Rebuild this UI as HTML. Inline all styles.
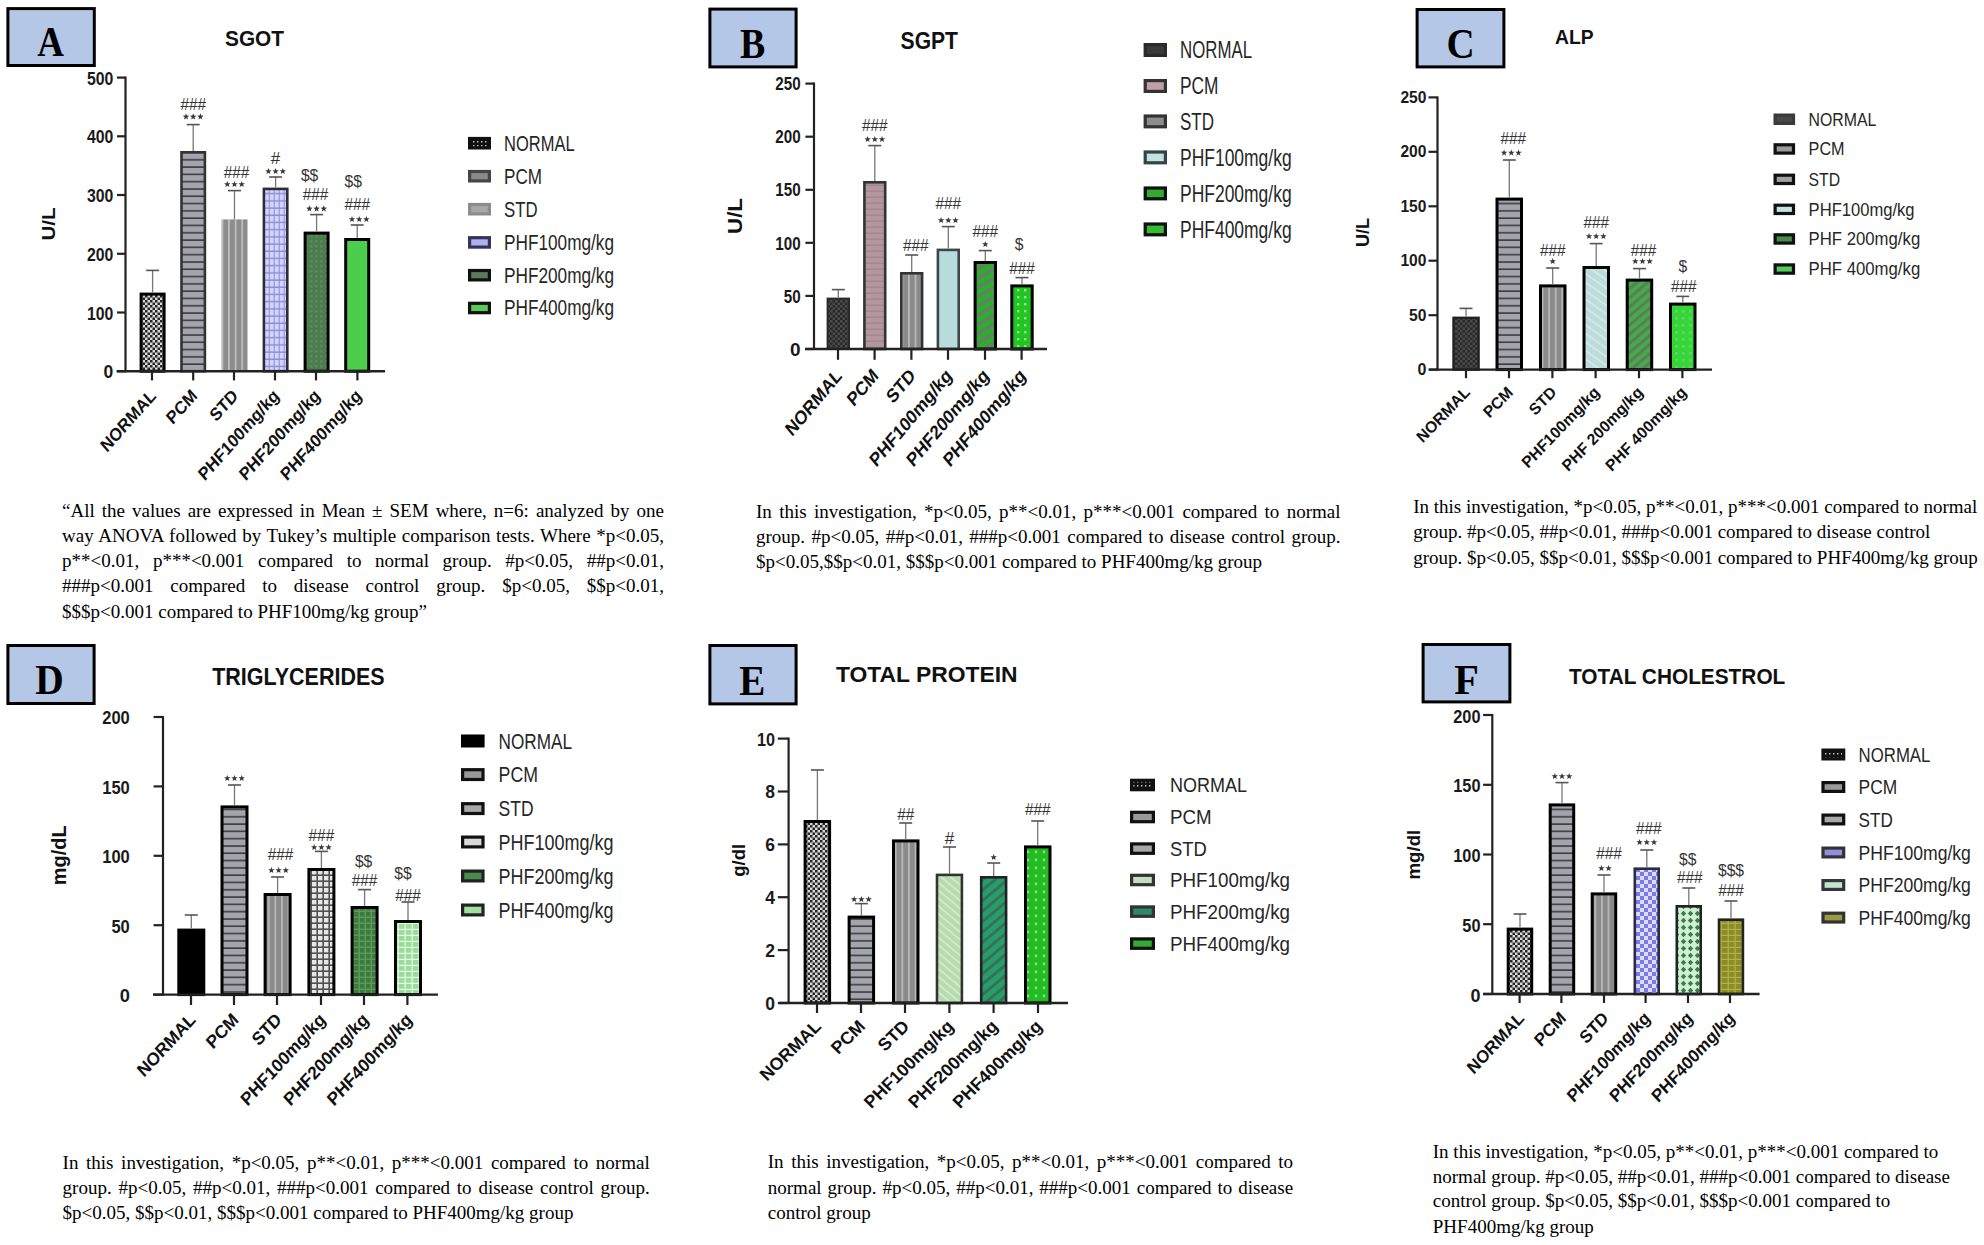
<!DOCTYPE html><html><head><meta charset="utf-8"><style>html,body{margin:0;padding:0;background:#fff;overflow:hidden;} svg{display:block;} .cap{position:absolute;font-family:'Liberation Serif', serif;font-size:19px;color:#000;white-space:nowrap;} .j{text-align:justify;text-align-last:justify;}</style></head><body>
<div style="position:relative;width:1984px;height:1245px;overflow:hidden;">
<svg width="1984" height="1245" viewBox="0 0 1984 1245">
<defs>
<pattern id="chkBW" width="5" height="5" patternUnits="userSpaceOnUse"><rect width="5" height="5" fill="#d8d8d8"/><rect width="2.5" height="2.5" fill="#262626"/><rect x="2.5" y="2.5" width="2.5" height="2.5" fill="#262626"/></pattern>
<pattern id="legNormA" width="4" height="4" patternUnits="userSpaceOnUse"><rect width="4" height="4" fill="#111"/><rect x="1" y="1" width="1.5" height="1.5" fill="#bbb"/></pattern>
<pattern id="chkDark" width="5" height="5" patternUnits="userSpaceOnUse"><rect width="5" height="5" fill="#2a2a2a"/><rect width="2.5" height="2.5" fill="#4a4a4a"/><rect x="2.5" y="2.5" width="2.5" height="2.5" fill="#4a4a4a"/></pattern>
<pattern id="hstr" width="8" height="7.3" patternUnits="userSpaceOnUse"><rect width="8" height="7.3" fill="#a4a4ac"/><rect y="5.7" width="8" height="1.6" fill="#3c3c40"/></pattern>
<pattern id="hstrPink" width="8" height="6" patternUnits="userSpaceOnUse"><rect width="8" height="6" fill="#b3969e"/><rect y="4.5" width="8" height="1.5" fill="#a08890"/></pattern>
<pattern id="vstrA" width="6.6" height="8" patternUnits="userSpaceOnUse"><rect width="6.6" height="8" fill="#8c8c8c"/><rect x="4" width="1.2" height="8" fill="#d6d6d6"/></pattern>
<pattern id="vstr" width="6.6" height="8" patternUnits="userSpaceOnUse"><rect width="6.6" height="8" fill="#8a8a8a"/><rect x="4" width="1.4" height="8" fill="#c4c4c4"/></pattern>
<pattern id="gridLav" width="5" height="7.2" patternUnits="userSpaceOnUse"><rect width="5" height="7.2" fill="#d4d4f6"/><rect x="3.6" width="1.4" height="7.2" fill="#a0a0ea"/><rect y="5.8" width="5" height="1.4" fill="#8a8ad8"/></pattern>
<pattern id="dgreenA" width="5" height="5" patternUnits="userSpaceOnUse"><rect width="5" height="5" fill="#4c7c4e"/><rect width="2.5" height="2.5" fill="#5a8a5c"/></pattern>
<pattern id="diagGreenB" width="8" height="8" patternUnits="userSpaceOnUse" patternTransform="rotate(-30)"><rect width="8" height="8" fill="#25b425"/><rect width="8" height="3.6" fill="#6c7a6c"/></pattern>
<pattern id="dotGreenB" width="7" height="7" patternUnits="userSpaceOnUse"><rect width="7" height="7" fill="#1fc81f"/><rect x="2" y="2" width="2.4" height="2.4" fill="#a8d0a8"/></pattern>
<pattern id="diagCyanC" width="7" height="7" patternUnits="userSpaceOnUse" patternTransform="rotate(35)"><rect width="7" height="7" fill="#bcdcdc"/><rect width="7" height="1.6" fill="#d4eaea"/></pattern>
<pattern id="diagGreenC" width="7" height="7" patternUnits="userSpaceOnUse" patternTransform="rotate(-40)"><rect width="7" height="7" fill="#46aa48"/><rect width="7" height="2.8" fill="#5c7a5c"/></pattern>
<pattern id="dotGreenC" width="7" height="7" patternUnits="userSpaceOnUse"><rect width="7" height="7" fill="#34d834"/><rect x="2" y="2" width="2.6" height="2.6" fill="#6ccc7c"/></pattern>
<pattern id="gridWhite" width="6" height="6" patternUnits="userSpaceOnUse"><rect width="6" height="6" fill="#e6e6e6"/><rect x="4.4" width="1.6" height="6" fill="#505050"/><rect y="4.4" width="6" height="1.6" fill="#505050"/></pattern>
<pattern id="gridDG" width="6" height="6" patternUnits="userSpaceOnUse"><rect width="6" height="6" fill="#3e7a40"/><rect x="4.6" width="1.4" height="6" fill="#5c9a5c"/><rect y="4.6" width="6" height="1.4" fill="#5c9a5c"/></pattern>
<pattern id="brickLG" width="7" height="6" patternUnits="userSpaceOnUse"><rect width="7" height="6" fill="#9adc9a"/><rect y="4.8" width="7" height="1.2" fill="#e8f8e8"/><rect x="5.6" width="1.2" height="6" fill="#e8f8e8"/></pattern>
<pattern id="diagLG_E" width="6" height="6" patternUnits="userSpaceOnUse" patternTransform="rotate(40)"><rect width="6" height="6" fill="#b6dcae"/><rect width="6" height="1.6" fill="#d4ecd0"/></pattern>
<pattern id="diagTeal" width="8" height="8" patternUnits="userSpaceOnUse" patternTransform="rotate(-40)"><rect width="8" height="8" fill="#22a06c"/><rect width="8" height="3" fill="#3e6e58"/></pattern>
<pattern id="dotGreenE" width="8" height="8" patternUnits="userSpaceOnUse"><rect width="8" height="8" fill="#20bc20"/><circle cx="4" cy="4" r="1.4" fill="#8cd88c"/></pattern>
<pattern id="chkBlue" width="8" height="8" patternUnits="userSpaceOnUse"><rect width="8" height="8" fill="#dcdcfc"/><rect width="4" height="4" fill="#7a7ae8"/><rect x="4" y="4" width="4" height="4" fill="#7a7ae8"/></pattern>
<pattern id="diamondF" width="7" height="7" patternUnits="userSpaceOnUse"><rect width="7" height="7" fill="#cdf0d4"/><path d="M3.5 0.8 L6.2 3.5 L3.5 6.2 L0.8 3.5Z" fill="#3e7a4c"/></pattern>
<pattern id="brickOlive" width="7" height="6" patternUnits="userSpaceOnUse"><rect width="7" height="6" fill="#8c8c24"/><rect y="4.8" width="7" height="1.2" fill="#b0b050"/><rect x="5.6" width="1.2" height="6" fill="#b0b050"/></pattern>
</defs>
<rect width="1984" height="1245" fill="#fff"/>
<rect x="7.9" y="8.6" width="86.4" height="56.9" fill="#b4c7e7" stroke="#000" stroke-width="3"/>
<g transform="translate(50.5 0) scale(0.88 1)"><text x="0" y="56.5" font-family="'Liberation Serif', serif" font-size="42" font-weight="700" text-anchor="middle" fill="#000">A</text></g>
<text x="225.0" y="46.0" font-family="'Liberation Sans', sans-serif" font-size="22.2" font-weight="700" text-anchor="start" fill="#111" textLength="59" lengthAdjust="spacingAndGlyphs" >SGOT</text>
<rect x="141.1" y="294.1" width="23.0" height="77.1" fill="url(#chkBW)" stroke="#000" stroke-width="3"/>
<rect x="181.5" y="152.3" width="23.4" height="218.9" fill="url(#hstr)" stroke="#333" stroke-width="2.6"/>
<rect x="221.5" y="219.4" width="26.0" height="151.8" fill="url(#vstrA)"/>
<rect x="263.9" y="188.9" width="23.4" height="182.3" fill="url(#gridLav)" stroke="#2c2c38" stroke-width="2.6"/>
<rect x="305.1" y="233.1" width="23.0" height="138.1" fill="url(#dgreenA)" stroke="#000" stroke-width="3"/>
<rect x="345.7" y="239.5" width="23.0" height="131.7" fill="#4ccd4c" stroke="#000" stroke-width="3"/>
<line x1="152.6" y1="292.6" x2="152.6" y2="270.4" stroke="#777" stroke-width="1.3"/>
<line x1="146.1" y1="270.4" x2="159.1" y2="270.4" stroke="#555" stroke-width="1.6"/>
<line x1="193.2" y1="151.0" x2="193.2" y2="124.6" stroke="#777" stroke-width="1.3"/>
<line x1="186.7" y1="124.6" x2="199.7" y2="124.6" stroke="#555" stroke-width="1.6"/>
<line x1="234.5" y1="219.4" x2="234.5" y2="190.6" stroke="#777" stroke-width="1.3"/>
<line x1="228.0" y1="190.6" x2="241.0" y2="190.6" stroke="#555" stroke-width="1.6"/>
<line x1="275.6" y1="187.6" x2="275.6" y2="177.0" stroke="#777" stroke-width="1.3"/>
<line x1="269.1" y1="177.0" x2="282.1" y2="177.0" stroke="#555" stroke-width="1.6"/>
<line x1="316.6" y1="231.6" x2="316.6" y2="214.6" stroke="#777" stroke-width="1.3"/>
<line x1="310.1" y1="214.6" x2="323.1" y2="214.6" stroke="#555" stroke-width="1.6"/>
<line x1="357.2" y1="238.0" x2="357.2" y2="225.0" stroke="#777" stroke-width="1.3"/>
<line x1="350.7" y1="225.0" x2="363.7" y2="225.0" stroke="#555" stroke-width="1.6"/>
<line x1="125.5" y1="76.6" x2="125.5" y2="372.2" stroke="#222" stroke-width="2.2"/>
<line x1="116.6" y1="371.2" x2="385.0" y2="371.2" stroke="#222" stroke-width="2.4"/>
<line x1="117.0" y1="371.2" x2="125.5" y2="371.2" stroke="#222" stroke-width="2.2"/>
<text x="113.3" y="378.3" font-family="'Liberation Sans', sans-serif" font-size="17.5" font-weight="700" text-anchor="end" fill="#1a1a1a" >0</text>
<line x1="117.0" y1="312.5" x2="125.5" y2="312.5" stroke="#222" stroke-width="2.2"/>
<text x="113.3" y="319.6" font-family="'Liberation Sans', sans-serif" font-size="17.5" font-weight="700" text-anchor="end" fill="#1a1a1a" textLength="26.400000000000002" lengthAdjust="spacingAndGlyphs" >100</text>
<line x1="117.0" y1="253.8" x2="125.5" y2="253.8" stroke="#222" stroke-width="2.2"/>
<text x="113.3" y="260.9" font-family="'Liberation Sans', sans-serif" font-size="17.5" font-weight="700" text-anchor="end" fill="#1a1a1a" textLength="26.400000000000002" lengthAdjust="spacingAndGlyphs" >200</text>
<line x1="117.0" y1="195.0" x2="125.5" y2="195.0" stroke="#222" stroke-width="2.2"/>
<text x="113.3" y="202.2" font-family="'Liberation Sans', sans-serif" font-size="17.5" font-weight="700" text-anchor="end" fill="#1a1a1a" textLength="26.400000000000002" lengthAdjust="spacingAndGlyphs" >300</text>
<line x1="117.0" y1="136.3" x2="125.5" y2="136.3" stroke="#222" stroke-width="2.2"/>
<text x="113.3" y="143.4" font-family="'Liberation Sans', sans-serif" font-size="17.5" font-weight="700" text-anchor="end" fill="#1a1a1a" textLength="26.400000000000002" lengthAdjust="spacingAndGlyphs" >400</text>
<line x1="117.0" y1="77.6" x2="125.5" y2="77.6" stroke="#222" stroke-width="2.2"/>
<text x="113.3" y="84.7" font-family="'Liberation Sans', sans-serif" font-size="17.5" font-weight="700" text-anchor="end" fill="#1a1a1a" textLength="26.400000000000002" lengthAdjust="spacingAndGlyphs" >500</text>
<line x1="152.0" y1="371.2" x2="152.0" y2="380.4" stroke="#222" stroke-width="2.2"/>
<line x1="193.2" y1="371.2" x2="193.2" y2="380.4" stroke="#222" stroke-width="2.2"/>
<line x1="234.0" y1="371.2" x2="234.0" y2="380.4" stroke="#222" stroke-width="2.2"/>
<line x1="275.0" y1="371.2" x2="275.0" y2="380.4" stroke="#222" stroke-width="2.2"/>
<line x1="316.0" y1="371.2" x2="316.0" y2="380.4" stroke="#222" stroke-width="2.2"/>
<line x1="357.4" y1="371.2" x2="357.4" y2="380.4" stroke="#222" stroke-width="2.2"/>
<text x="0" y="0" transform="translate(156.95 396.90) scale(0.89 1) rotate(-45)" font-family="'Liberation Sans', sans-serif" font-size="18.1" font-weight="700" text-anchor="end" fill="#111">NORMAL</text>
<text x="0" y="0" transform="translate(198.15 396.90) scale(0.89 1) rotate(-45)" font-family="'Liberation Sans', sans-serif" font-size="18.1" font-weight="700" text-anchor="end" fill="#111">PCM</text>
<text x="0" y="0" transform="translate(238.95 396.90) scale(0.89 1) rotate(-45)" font-family="'Liberation Sans', sans-serif" font-size="18.1" font-weight="700" text-anchor="end" fill="#111">STD</text>
<text x="0" y="0" transform="translate(279.95 396.90) scale(0.89 1) rotate(-45)" font-family="'Liberation Sans', sans-serif" font-size="18.1" font-weight="700" text-anchor="end" fill="#111">PHF100mg/kg</text>
<text x="0" y="0" transform="translate(320.95 396.90) scale(0.89 1) rotate(-45)" font-family="'Liberation Sans', sans-serif" font-size="18.1" font-weight="700" text-anchor="end" fill="#111">PHF200mg/kg</text>
<text x="0" y="0" transform="translate(362.35 396.90) scale(0.89 1) rotate(-45)" font-family="'Liberation Sans', sans-serif" font-size="18.1" font-weight="700" text-anchor="end" fill="#111">PHF400mg/kg</text>
<text x="193.2" y="110.0" font-family="'Liberation Sans', sans-serif" font-size="17" font-weight="400" text-anchor="middle" fill="#333" textLength="25.650000000000002" lengthAdjust="spacingAndGlyphs" >###</text>
<polygon points="186.00,113.30 186.85,115.53 189.23,115.65 187.38,117.15 188.00,119.45 186.00,118.15 184.00,119.45 184.62,117.15 182.77,115.65 185.15,115.53" fill="#3a3a3a"/>
<polygon points="193.20,113.30 194.05,115.53 196.43,115.65 194.58,117.15 195.20,119.45 193.20,118.15 191.20,119.45 191.82,117.15 189.97,115.65 192.35,115.53" fill="#3a3a3a"/>
<polygon points="200.40,113.30 201.25,115.53 203.63,115.65 201.78,117.15 202.40,119.45 200.40,118.15 198.40,119.45 199.02,117.15 197.17,115.65 199.55,115.53" fill="#3a3a3a"/>
<text x="236.5" y="177.6" font-family="'Liberation Sans', sans-serif" font-size="17" font-weight="400" text-anchor="middle" fill="#333" textLength="25.650000000000002" lengthAdjust="spacingAndGlyphs" >###</text>
<polygon points="227.30,180.90 228.15,183.13 230.53,183.25 228.68,184.75 229.30,187.05 227.30,185.75 225.30,187.05 225.92,184.75 224.07,183.25 226.45,183.13" fill="#3a3a3a"/>
<polygon points="234.50,180.90 235.35,183.13 237.73,183.25 235.88,184.75 236.50,187.05 234.50,185.75 232.50,187.05 233.12,184.75 231.27,183.25 233.65,183.13" fill="#3a3a3a"/>
<polygon points="241.70,180.90 242.55,183.13 244.93,183.25 243.08,184.75 243.70,187.05 241.70,185.75 239.70,187.05 240.32,184.75 238.47,183.25 240.85,183.13" fill="#3a3a3a"/>
<text x="275.6" y="164.0" font-family="'Liberation Sans', sans-serif" font-size="17" font-weight="400" text-anchor="middle" fill="#333" >#</text>
<polygon points="268.40,167.90 269.25,170.13 271.63,170.25 269.78,171.75 270.40,174.05 268.40,172.75 266.40,174.05 267.02,171.75 265.17,170.25 267.55,170.13" fill="#3a3a3a"/>
<polygon points="275.60,167.90 276.45,170.13 278.83,170.25 276.98,171.75 277.60,174.05 275.60,172.75 273.60,174.05 274.22,171.75 272.37,170.25 274.75,170.13" fill="#3a3a3a"/>
<polygon points="282.80,167.90 283.65,170.13 286.03,170.25 284.18,171.75 284.80,174.05 282.80,172.75 280.80,174.05 281.42,171.75 279.57,170.25 281.95,170.13" fill="#3a3a3a"/>
<text x="309.6" y="180.9" font-family="'Liberation Sans', sans-serif" font-size="16" font-weight="400" text-anchor="middle" fill="#333" textLength="17.4" lengthAdjust="spacingAndGlyphs" >$$</text>
<text x="315.6" y="200.0" font-family="'Liberation Sans', sans-serif" font-size="17" font-weight="400" text-anchor="middle" fill="#333" textLength="25.650000000000002" lengthAdjust="spacingAndGlyphs" >###</text>
<polygon points="309.40,205.30 310.25,207.53 312.63,207.65 310.78,209.15 311.40,211.45 309.40,210.15 307.40,211.45 308.02,209.15 306.17,207.65 308.55,207.53" fill="#3a3a3a"/>
<polygon points="316.60,205.30 317.45,207.53 319.83,207.65 317.98,209.15 318.60,211.45 316.60,210.15 314.60,211.45 315.22,209.15 313.37,207.65 315.75,207.53" fill="#3a3a3a"/>
<polygon points="323.80,205.30 324.65,207.53 327.03,207.65 325.18,209.15 325.80,211.45 323.80,210.15 321.80,211.45 322.42,209.15 320.57,207.65 322.95,207.53" fill="#3a3a3a"/>
<text x="353.2" y="186.9" font-family="'Liberation Sans', sans-serif" font-size="16" font-weight="400" text-anchor="middle" fill="#333" textLength="17.4" lengthAdjust="spacingAndGlyphs" >$$</text>
<text x="357.2" y="210.0" font-family="'Liberation Sans', sans-serif" font-size="17" font-weight="400" text-anchor="middle" fill="#333" textLength="25.650000000000002" lengthAdjust="spacingAndGlyphs" >###</text>
<polygon points="352.00,215.90 352.85,218.13 355.23,218.25 353.38,219.75 354.00,222.05 352.00,220.75 350.00,222.05 350.62,219.75 348.77,218.25 351.15,218.13" fill="#3a3a3a"/>
<polygon points="359.20,215.90 360.05,218.13 362.43,218.25 360.58,219.75 361.20,222.05 359.20,220.75 357.20,222.05 357.82,219.75 355.97,218.25 358.35,218.13" fill="#3a3a3a"/>
<polygon points="366.40,215.90 367.25,218.13 369.63,218.25 367.78,219.75 368.40,222.05 366.40,220.75 364.40,222.05 365.02,219.75 363.17,218.25 365.55,218.13" fill="#3a3a3a"/>
<rect x="469.6" y="138.5" width="19.8" height="9.4" fill="url(#legNormA)" stroke="#111" stroke-width="3.2"/>
<text x="504.0" y="150.5" font-family="'Liberation Sans', sans-serif" font-size="21.2" font-weight="400" text-anchor="start" fill="#262626" textLength="70.6" lengthAdjust="spacingAndGlyphs" >NORMAL</text>
<rect x="469.6" y="171.5" width="19.8" height="9.4" fill="#8a8a8a" stroke="#454545" stroke-width="3.2"/>
<text x="504.0" y="183.5" font-family="'Liberation Sans', sans-serif" font-size="21.2" font-weight="400" text-anchor="start" fill="#262626" textLength="38" lengthAdjust="spacingAndGlyphs" >PCM</text>
<rect x="469.6" y="204.5" width="19.8" height="9.4" fill="#a8a8a8" stroke="#8c8c8c" stroke-width="3.2"/>
<text x="504.0" y="216.5" font-family="'Liberation Sans', sans-serif" font-size="21.2" font-weight="400" text-anchor="start" fill="#262626" textLength="33.6" lengthAdjust="spacingAndGlyphs" >STD</text>
<rect x="469.6" y="237.7" width="19.8" height="9.4" fill="#b0b0ee" stroke="#34345a" stroke-width="3.2"/>
<text x="504.0" y="249.7" font-family="'Liberation Sans', sans-serif" font-size="21.2" font-weight="400" text-anchor="start" fill="#262626" textLength="110" lengthAdjust="spacingAndGlyphs" >PHF100mg/kg</text>
<rect x="469.6" y="270.5" width="19.8" height="9.4" fill="#5a7a5a" stroke="#111" stroke-width="3.2"/>
<text x="504.0" y="282.5" font-family="'Liberation Sans', sans-serif" font-size="21.2" font-weight="400" text-anchor="start" fill="#262626" textLength="110" lengthAdjust="spacingAndGlyphs" >PHF200mg/kg</text>
<rect x="469.6" y="303.3" width="19.8" height="9.4" fill="#58cc58" stroke="#111" stroke-width="3.2"/>
<text x="504.0" y="315.3" font-family="'Liberation Sans', sans-serif" font-size="21.2" font-weight="400" text-anchor="start" fill="#262626" textLength="110" lengthAdjust="spacingAndGlyphs" >PHF400mg/kg</text>
<text x="0" y="0" transform="translate(54.8 224.0) scale(0.92 1) rotate(-90)" font-family="'Liberation Sans', sans-serif" font-size="20.6" font-weight="700" text-anchor="middle" fill="#111">U/L</text>
<rect x="709.9" y="9.1" width="86.2" height="57.8" fill="#b4c7e7" stroke="#000" stroke-width="3"/>
<g transform="translate(752.7 0) scale(0.9 1)"><text x="0" y="58.0" font-family="'Liberation Serif', serif" font-size="42" font-weight="700" text-anchor="middle" fill="#000">B</text></g>
<text x="900.6" y="49.0" font-family="'Liberation Sans', sans-serif" font-size="23.5" font-weight="700" text-anchor="start" fill="#111" textLength="57.4" lengthAdjust="spacingAndGlyphs" >SGPT</text>
<rect x="827.6" y="298.6" width="21.4" height="50.4" fill="url(#chkDark)" stroke="#2a2a2a" stroke-width="2"/>
<rect x="864.4" y="182.3" width="20.8" height="166.7" fill="url(#hstrPink)" stroke="#333" stroke-width="2.6"/>
<rect x="901.3" y="273.3" width="20.8" height="75.7" fill="url(#vstr)" stroke="#333" stroke-width="2.6"/>
<rect x="937.9" y="249.9" width="20.8" height="99.1" fill="#b8dcdc" stroke="#3a4848" stroke-width="2.6"/>
<rect x="975.1" y="262.5" width="20.4" height="86.5" fill="url(#diagGreenB)" stroke="#000" stroke-width="3"/>
<rect x="1011.8" y="285.9" width="20.4" height="63.1" fill="url(#dotGreenB)" stroke="#000" stroke-width="3"/>
<line x1="838.3" y1="297.6" x2="838.3" y2="289.6" stroke="#777" stroke-width="1.3"/>
<line x1="831.8" y1="289.6" x2="844.8" y2="289.6" stroke="#555" stroke-width="1.6"/>
<line x1="874.8" y1="181.0" x2="874.8" y2="145.6" stroke="#777" stroke-width="1.3"/>
<line x1="868.3" y1="145.6" x2="881.3" y2="145.6" stroke="#555" stroke-width="1.6"/>
<line x1="911.7" y1="272.0" x2="911.7" y2="255.0" stroke="#777" stroke-width="1.3"/>
<line x1="905.2" y1="255.0" x2="918.2" y2="255.0" stroke="#555" stroke-width="1.6"/>
<line x1="948.3" y1="248.6" x2="948.3" y2="226.6" stroke="#777" stroke-width="1.3"/>
<line x1="941.8" y1="226.6" x2="954.8" y2="226.6" stroke="#555" stroke-width="1.6"/>
<line x1="985.3" y1="261.0" x2="985.3" y2="250.6" stroke="#777" stroke-width="1.3"/>
<line x1="978.8" y1="250.6" x2="991.8" y2="250.6" stroke="#555" stroke-width="1.6"/>
<line x1="1022.0" y1="284.4" x2="1022.0" y2="277.6" stroke="#777" stroke-width="1.3"/>
<line x1="1015.5" y1="277.6" x2="1028.5" y2="277.6" stroke="#555" stroke-width="1.6"/>
<line x1="814.0" y1="82.6" x2="814.0" y2="350.0" stroke="#222" stroke-width="2.2"/>
<line x1="805.0" y1="349.0" x2="1047.0" y2="349.0" stroke="#222" stroke-width="2.4"/>
<line x1="805.4" y1="349.0" x2="814.0" y2="349.0" stroke="#222" stroke-width="2.2"/>
<text x="800.6" y="355.6" font-family="'Liberation Sans', sans-serif" font-size="19" font-weight="700" text-anchor="end" fill="#1a1a1a" >0</text>
<line x1="805.4" y1="295.9" x2="814.0" y2="295.9" stroke="#222" stroke-width="2.2"/>
<text x="800.6" y="302.6" font-family="'Liberation Sans', sans-serif" font-size="19" font-weight="700" text-anchor="end" fill="#1a1a1a" textLength="16.9" lengthAdjust="spacingAndGlyphs" >50</text>
<line x1="805.4" y1="242.8" x2="814.0" y2="242.8" stroke="#222" stroke-width="2.2"/>
<text x="800.6" y="249.5" font-family="'Liberation Sans', sans-serif" font-size="19" font-weight="700" text-anchor="end" fill="#1a1a1a" textLength="25.349999999999998" lengthAdjust="spacingAndGlyphs" >100</text>
<line x1="805.4" y1="189.8" x2="814.0" y2="189.8" stroke="#222" stroke-width="2.2"/>
<text x="800.6" y="196.4" font-family="'Liberation Sans', sans-serif" font-size="19" font-weight="700" text-anchor="end" fill="#1a1a1a" textLength="25.349999999999998" lengthAdjust="spacingAndGlyphs" >150</text>
<line x1="805.4" y1="136.7" x2="814.0" y2="136.7" stroke="#222" stroke-width="2.2"/>
<text x="800.6" y="143.3" font-family="'Liberation Sans', sans-serif" font-size="19" font-weight="700" text-anchor="end" fill="#1a1a1a" textLength="25.349999999999998" lengthAdjust="spacingAndGlyphs" >200</text>
<line x1="805.4" y1="83.6" x2="814.0" y2="83.6" stroke="#222" stroke-width="2.2"/>
<text x="800.6" y="90.3" font-family="'Liberation Sans', sans-serif" font-size="19" font-weight="700" text-anchor="end" fill="#1a1a1a" textLength="25.349999999999998" lengthAdjust="spacingAndGlyphs" >250</text>
<line x1="838.0" y1="349.0" x2="838.0" y2="359.8" stroke="#222" stroke-width="2.2"/>
<line x1="874.6" y1="349.0" x2="874.6" y2="359.8" stroke="#222" stroke-width="2.2"/>
<line x1="911.4" y1="349.0" x2="911.4" y2="359.8" stroke="#222" stroke-width="2.2"/>
<line x1="948.0" y1="349.0" x2="948.0" y2="359.8" stroke="#222" stroke-width="2.2"/>
<line x1="985.0" y1="349.0" x2="985.0" y2="359.8" stroke="#222" stroke-width="2.2"/>
<line x1="1021.6" y1="349.0" x2="1021.6" y2="359.8" stroke="#222" stroke-width="2.2"/>
<text x="0" y="0" transform="translate(842.86 376.87) scale(0.84 1) rotate(-45)" font-family="'Liberation Sans', sans-serif" font-size="19.5" font-weight="700" text-anchor="end" fill="#111">NORMAL</text>
<text x="0" y="0" transform="translate(879.46 376.87) scale(0.84 1) rotate(-45)" font-family="'Liberation Sans', sans-serif" font-size="19.5" font-weight="700" text-anchor="end" fill="#111">PCM</text>
<text x="0" y="0" transform="translate(916.26 376.87) scale(0.84 1) rotate(-45)" font-family="'Liberation Sans', sans-serif" font-size="19.5" font-weight="700" text-anchor="end" fill="#111">STD</text>
<text x="0" y="0" transform="translate(952.86 376.87) scale(0.84 1) rotate(-45)" font-family="'Liberation Sans', sans-serif" font-size="19.5" font-weight="700" text-anchor="end" fill="#111">PHF100mg/kg</text>
<text x="0" y="0" transform="translate(989.86 376.87) scale(0.84 1) rotate(-45)" font-family="'Liberation Sans', sans-serif" font-size="19.5" font-weight="700" text-anchor="end" fill="#111">PHF200mg/kg</text>
<text x="0" y="0" transform="translate(1026.46 376.87) scale(0.84 1) rotate(-45)" font-family="'Liberation Sans', sans-serif" font-size="19.5" font-weight="700" text-anchor="end" fill="#111">PHF400mg/kg</text>
<text x="874.8" y="131.0" font-family="'Liberation Sans', sans-serif" font-size="17" font-weight="400" text-anchor="middle" fill="#333" textLength="25.650000000000002" lengthAdjust="spacingAndGlyphs" >###</text>
<polygon points="867.60,135.90 868.45,138.13 870.83,138.25 868.98,139.75 869.60,142.05 867.60,140.75 865.60,142.05 866.22,139.75 864.37,138.25 866.75,138.13" fill="#3a3a3a"/>
<polygon points="874.80,135.90 875.65,138.13 878.03,138.25 876.18,139.75 876.80,142.05 874.80,140.75 872.80,142.05 873.42,139.75 871.57,138.25 873.95,138.13" fill="#3a3a3a"/>
<polygon points="882.00,135.90 882.85,138.13 885.23,138.25 883.38,139.75 884.00,142.05 882.00,140.75 880.00,142.05 880.62,139.75 878.77,138.25 881.15,138.13" fill="#3a3a3a"/>
<text x="915.7" y="251.0" font-family="'Liberation Sans', sans-serif" font-size="17" font-weight="400" text-anchor="middle" fill="#333" textLength="25.650000000000002" lengthAdjust="spacingAndGlyphs" >###</text>
<text x="948.3" y="209.0" font-family="'Liberation Sans', sans-serif" font-size="17" font-weight="400" text-anchor="middle" fill="#333" textLength="25.650000000000002" lengthAdjust="spacingAndGlyphs" >###</text>
<polygon points="941.10,216.90 941.95,219.13 944.33,219.25 942.48,220.75 943.10,223.05 941.10,221.75 939.10,223.05 939.72,220.75 937.87,219.25 940.25,219.13" fill="#3a3a3a"/>
<polygon points="948.30,216.90 949.15,219.13 951.53,219.25 949.68,220.75 950.30,223.05 948.30,221.75 946.30,223.05 946.92,220.75 945.07,219.25 947.45,219.13" fill="#3a3a3a"/>
<polygon points="955.50,216.90 956.35,219.13 958.73,219.25 956.88,220.75 957.50,223.05 955.50,221.75 953.50,223.05 954.12,220.75 952.27,219.25 954.65,219.13" fill="#3a3a3a"/>
<text x="985.3" y="237.0" font-family="'Liberation Sans', sans-serif" font-size="17" font-weight="400" text-anchor="middle" fill="#333" textLength="25.650000000000002" lengthAdjust="spacingAndGlyphs" >###</text>
<polygon points="985.30,240.90 986.15,243.13 988.53,243.25 986.68,244.75 987.30,247.05 985.30,245.75 983.30,247.05 983.92,244.75 982.07,243.25 984.45,243.13" fill="#3a3a3a"/>
<text x="1019.0" y="249.9" font-family="'Liberation Sans', sans-serif" font-size="16" font-weight="400" text-anchor="middle" fill="#333" textLength="8.7" lengthAdjust="spacingAndGlyphs" >$</text>
<text x="1022.0" y="274.0" font-family="'Liberation Sans', sans-serif" font-size="17" font-weight="400" text-anchor="middle" fill="#333" textLength="25.650000000000002" lengthAdjust="spacingAndGlyphs" >###</text>
<rect x="1145.2" y="44.6" width="20.2" height="10.8" fill="#3a3a3a" stroke="#2a2a2a" stroke-width="3.2"/>
<text x="1180.0" y="58.3" font-family="'Liberation Sans', sans-serif" font-size="23.2" font-weight="400" text-anchor="start" fill="#262626" textLength="72" lengthAdjust="spacingAndGlyphs" >NORMAL</text>
<rect x="1145.2" y="80.6" width="20.2" height="10.8" fill="#c0a0a8" stroke="#333" stroke-width="3.2"/>
<text x="1180.0" y="94.3" font-family="'Liberation Sans', sans-serif" font-size="23.2" font-weight="400" text-anchor="start" fill="#262626" textLength="38.4" lengthAdjust="spacingAndGlyphs" >PCM</text>
<rect x="1145.2" y="116.0" width="20.2" height="10.8" fill="#8c8c8c" stroke="#333" stroke-width="3.2"/>
<text x="1180.0" y="129.7" font-family="'Liberation Sans', sans-serif" font-size="23.2" font-weight="400" text-anchor="start" fill="#262626" textLength="34" lengthAdjust="spacingAndGlyphs" >STD</text>
<rect x="1145.2" y="152.0" width="20.2" height="10.8" fill="#c4e2e2" stroke="#334444" stroke-width="3.2"/>
<text x="1180.0" y="165.7" font-family="'Liberation Sans', sans-serif" font-size="23.2" font-weight="400" text-anchor="start" fill="#262626" textLength="111.6" lengthAdjust="spacingAndGlyphs" >PHF100mg/kg</text>
<rect x="1145.2" y="188.0" width="20.2" height="10.8" fill="#33aa33" stroke="#111" stroke-width="3.2"/>
<text x="1180.0" y="201.7" font-family="'Liberation Sans', sans-serif" font-size="23.2" font-weight="400" text-anchor="start" fill="#262626" textLength="111.6" lengthAdjust="spacingAndGlyphs" >PHF200mg/kg</text>
<rect x="1145.2" y="224.0" width="20.2" height="10.8" fill="#35bb35" stroke="#111" stroke-width="3.2"/>
<text x="1180.0" y="237.7" font-family="'Liberation Sans', sans-serif" font-size="23.2" font-weight="400" text-anchor="start" fill="#262626" textLength="111.6" lengthAdjust="spacingAndGlyphs" >PHF400mg/kg</text>
<text x="0" y="0" transform="translate(742.0 216.0) scale(0.87 1) rotate(-90)" font-family="'Liberation Sans', sans-serif" font-size="22.3" font-weight="700" text-anchor="middle" fill="#111">U/L</text>
<rect x="1417.1" y="9.5" width="86.8" height="57.4" fill="#b4c7e7" stroke="#000" stroke-width="3"/>
<g transform="translate(1460.5 0) scale(0.93 1)"><text x="0" y="58.0" font-family="'Liberation Serif', serif" font-size="42" font-weight="700" text-anchor="middle" fill="#000">C</text></g>
<text x="1555.0" y="44.0" font-family="'Liberation Sans', sans-serif" font-size="20.8" font-weight="700" text-anchor="start" fill="#111" textLength="38.6" lengthAdjust="spacingAndGlyphs" >ALP</text>
<rect x="1453.5" y="317.8" width="25.1" height="51.8" fill="url(#chkDark)" stroke="#222" stroke-width="2.4"/>
<rect x="1497.0" y="199.1" width="24.5" height="170.5" fill="url(#hstr)" stroke="#000" stroke-width="3"/>
<rect x="1540.5" y="285.9" width="24.5" height="83.7" fill="url(#vstr)" stroke="#000" stroke-width="3"/>
<rect x="1584.0" y="267.5" width="24.5" height="102.1" fill="url(#diagCyanC)" stroke="#000" stroke-width="3"/>
<rect x="1627.2" y="280.1" width="24.5" height="89.5" fill="url(#diagGreenC)" stroke="#000" stroke-width="3"/>
<rect x="1670.5" y="304.1" width="24.5" height="65.5" fill="url(#dotGreenC)" stroke="#000" stroke-width="3"/>
<line x1="1466.0" y1="316.6" x2="1466.0" y2="308.4" stroke="#777" stroke-width="1.3"/>
<line x1="1459.5" y1="308.4" x2="1472.5" y2="308.4" stroke="#555" stroke-width="1.6"/>
<line x1="1509.3" y1="197.6" x2="1509.3" y2="160.0" stroke="#777" stroke-width="1.3"/>
<line x1="1502.8" y1="160.0" x2="1515.8" y2="160.0" stroke="#555" stroke-width="1.6"/>
<line x1="1552.7" y1="284.4" x2="1552.7" y2="268.0" stroke="#777" stroke-width="1.3"/>
<line x1="1546.2" y1="268.0" x2="1559.2" y2="268.0" stroke="#555" stroke-width="1.6"/>
<line x1="1596.2" y1="266.0" x2="1596.2" y2="243.6" stroke="#777" stroke-width="1.3"/>
<line x1="1589.7" y1="243.6" x2="1602.7" y2="243.6" stroke="#555" stroke-width="1.6"/>
<line x1="1639.5" y1="278.6" x2="1639.5" y2="268.6" stroke="#777" stroke-width="1.3"/>
<line x1="1633.0" y1="268.6" x2="1646.0" y2="268.6" stroke="#555" stroke-width="1.6"/>
<line x1="1682.8" y1="302.6" x2="1682.8" y2="296.4" stroke="#777" stroke-width="1.3"/>
<line x1="1676.3" y1="296.4" x2="1689.3" y2="296.4" stroke="#555" stroke-width="1.6"/>
<line x1="1437.5" y1="96.4" x2="1437.5" y2="370.6" stroke="#222" stroke-width="2.2"/>
<line x1="1429.0" y1="369.6" x2="1712.0" y2="369.6" stroke="#222" stroke-width="2.4"/>
<line x1="1428.5" y1="369.6" x2="1437.5" y2="369.6" stroke="#222" stroke-width="2.2"/>
<text x="1426.4" y="375.2" font-family="'Liberation Sans', sans-serif" font-size="16" font-weight="700" text-anchor="end" fill="#1a1a1a" >0</text>
<line x1="1428.5" y1="315.2" x2="1437.5" y2="315.2" stroke="#222" stroke-width="2.2"/>
<text x="1426.4" y="320.8" font-family="'Liberation Sans', sans-serif" font-size="16" font-weight="700" text-anchor="end" fill="#1a1a1a" textLength="17.34" lengthAdjust="spacingAndGlyphs" >50</text>
<line x1="1428.5" y1="260.7" x2="1437.5" y2="260.7" stroke="#222" stroke-width="2.2"/>
<text x="1426.4" y="266.3" font-family="'Liberation Sans', sans-serif" font-size="16" font-weight="700" text-anchor="end" fill="#1a1a1a" textLength="26.009999999999998" lengthAdjust="spacingAndGlyphs" >100</text>
<line x1="1428.5" y1="206.3" x2="1437.5" y2="206.3" stroke="#222" stroke-width="2.2"/>
<text x="1426.4" y="211.9" font-family="'Liberation Sans', sans-serif" font-size="16" font-weight="700" text-anchor="end" fill="#1a1a1a" textLength="26.009999999999998" lengthAdjust="spacingAndGlyphs" >150</text>
<line x1="1428.5" y1="151.8" x2="1437.5" y2="151.8" stroke="#222" stroke-width="2.2"/>
<text x="1426.4" y="157.4" font-family="'Liberation Sans', sans-serif" font-size="16" font-weight="700" text-anchor="end" fill="#1a1a1a" textLength="26.009999999999998" lengthAdjust="spacingAndGlyphs" >200</text>
<line x1="1428.5" y1="97.4" x2="1437.5" y2="97.4" stroke="#222" stroke-width="2.2"/>
<text x="1426.4" y="103.0" font-family="'Liberation Sans', sans-serif" font-size="16" font-weight="700" text-anchor="end" fill="#1a1a1a" textLength="26.009999999999998" lengthAdjust="spacingAndGlyphs" >250</text>
<line x1="1466.0" y1="369.6" x2="1466.0" y2="378.2" stroke="#222" stroke-width="2.2"/>
<line x1="1509.0" y1="369.6" x2="1509.0" y2="378.2" stroke="#222" stroke-width="2.2"/>
<line x1="1552.4" y1="369.6" x2="1552.4" y2="378.2" stroke="#222" stroke-width="2.2"/>
<line x1="1595.6" y1="369.6" x2="1595.6" y2="378.2" stroke="#222" stroke-width="2.2"/>
<line x1="1639.0" y1="369.6" x2="1639.0" y2="378.2" stroke="#222" stroke-width="2.2"/>
<line x1="1682.4" y1="369.6" x2="1682.4" y2="378.2" stroke="#222" stroke-width="2.2"/>
<text x="0" y="0" transform="translate(1470.94 393.34) scale(0.96 1) rotate(-45)" font-family="'Liberation Sans', sans-serif" font-size="16.2" font-weight="700" text-anchor="end" fill="#111">NORMAL</text>
<text x="0" y="0" transform="translate(1513.94 393.34) scale(0.96 1) rotate(-45)" font-family="'Liberation Sans', sans-serif" font-size="16.2" font-weight="700" text-anchor="end" fill="#111">PCM</text>
<text x="0" y="0" transform="translate(1557.34 393.34) scale(0.96 1) rotate(-45)" font-family="'Liberation Sans', sans-serif" font-size="16.2" font-weight="700" text-anchor="end" fill="#111">STD</text>
<text x="0" y="0" transform="translate(1600.54 393.34) scale(0.96 1) rotate(-45)" font-family="'Liberation Sans', sans-serif" font-size="16.2" font-weight="700" text-anchor="end" fill="#111">PHF100mg/kg</text>
<text x="0" y="0" transform="translate(1643.94 393.34) scale(0.96 1) rotate(-45)" font-family="'Liberation Sans', sans-serif" font-size="16.2" font-weight="700" text-anchor="end" fill="#111">PHF 200mg/kg</text>
<text x="0" y="0" transform="translate(1687.34 393.34) scale(0.96 1) rotate(-45)" font-family="'Liberation Sans', sans-serif" font-size="16.2" font-weight="700" text-anchor="end" fill="#111">PHF 400mg/kg</text>
<text x="1513.3" y="144.0" font-family="'Liberation Sans', sans-serif" font-size="17" font-weight="400" text-anchor="middle" fill="#333" textLength="25.650000000000002" lengthAdjust="spacingAndGlyphs" >###</text>
<polygon points="1504.10,149.50 1504.95,151.73 1507.33,151.85 1505.48,153.35 1506.10,155.65 1504.10,154.35 1502.10,155.65 1502.72,153.35 1500.87,151.85 1503.25,151.73" fill="#3a3a3a"/>
<polygon points="1511.30,149.50 1512.15,151.73 1514.53,151.85 1512.68,153.35 1513.30,155.65 1511.30,154.35 1509.30,155.65 1509.92,153.35 1508.07,151.85 1510.45,151.73" fill="#3a3a3a"/>
<polygon points="1518.50,149.50 1519.35,151.73 1521.73,151.85 1519.88,153.35 1520.50,155.65 1518.50,154.35 1516.50,155.65 1517.12,153.35 1515.27,151.85 1517.65,151.73" fill="#3a3a3a"/>
<text x="1552.7" y="255.6" font-family="'Liberation Sans', sans-serif" font-size="17" font-weight="400" text-anchor="middle" fill="#333" textLength="25.650000000000002" lengthAdjust="spacingAndGlyphs" >###</text>
<polygon points="1552.70,257.90 1553.55,260.13 1555.93,260.25 1554.08,261.75 1554.70,264.05 1552.70,262.75 1550.70,264.05 1551.32,261.75 1549.47,260.25 1551.85,260.13" fill="#3a3a3a"/>
<text x="1596.2" y="228.0" font-family="'Liberation Sans', sans-serif" font-size="17" font-weight="400" text-anchor="middle" fill="#333" textLength="25.650000000000002" lengthAdjust="spacingAndGlyphs" >###</text>
<polygon points="1589.00,232.90 1589.85,235.13 1592.23,235.25 1590.38,236.75 1591.00,239.05 1589.00,237.75 1587.00,239.05 1587.62,236.75 1585.77,235.25 1588.15,235.13" fill="#3a3a3a"/>
<polygon points="1596.20,232.90 1597.05,235.13 1599.43,235.25 1597.58,236.75 1598.20,239.05 1596.20,237.75 1594.20,239.05 1594.82,236.75 1592.97,235.25 1595.35,235.13" fill="#3a3a3a"/>
<polygon points="1603.40,232.90 1604.25,235.13 1606.63,235.25 1604.78,236.75 1605.40,239.05 1603.40,237.75 1601.40,239.05 1602.02,236.75 1600.17,235.25 1602.55,235.13" fill="#3a3a3a"/>
<text x="1643.5" y="255.6" font-family="'Liberation Sans', sans-serif" font-size="17" font-weight="400" text-anchor="middle" fill="#333" textLength="25.650000000000002" lengthAdjust="spacingAndGlyphs" >###</text>
<polygon points="1635.30,257.90 1636.15,260.13 1638.53,260.25 1636.68,261.75 1637.30,264.05 1635.30,262.75 1633.30,264.05 1633.92,261.75 1632.07,260.25 1634.45,260.13" fill="#3a3a3a"/>
<polygon points="1642.50,257.90 1643.35,260.13 1645.73,260.25 1643.88,261.75 1644.50,264.05 1642.50,262.75 1640.50,264.05 1641.12,261.75 1639.27,260.25 1641.65,260.13" fill="#3a3a3a"/>
<polygon points="1649.70,257.90 1650.55,260.13 1652.93,260.25 1651.08,261.75 1651.70,264.05 1649.70,262.75 1647.70,264.05 1648.32,261.75 1646.47,260.25 1648.85,260.13" fill="#3a3a3a"/>
<text x="1682.8" y="271.9" font-family="'Liberation Sans', sans-serif" font-size="16" font-weight="400" text-anchor="middle" fill="#333" textLength="8.7" lengthAdjust="spacingAndGlyphs" >$</text>
<text x="1683.8" y="292.0" font-family="'Liberation Sans', sans-serif" font-size="17" font-weight="400" text-anchor="middle" fill="#333" textLength="25.650000000000002" lengthAdjust="spacingAndGlyphs" >###</text>
<rect x="1775.1" y="115.1" width="18.4" height="8.3" fill="#484848" stroke="#3a3a3a" stroke-width="3.2"/>
<text x="1808.6" y="125.6" font-family="'Liberation Sans', sans-serif" font-size="18.3" font-weight="400" text-anchor="start" fill="#262626" textLength="67.8" lengthAdjust="spacingAndGlyphs" >NORMAL</text>
<rect x="1775.1" y="144.8" width="18.4" height="8.3" fill="#9a9a9a" stroke="#111" stroke-width="3.2"/>
<text x="1808.6" y="155.3" font-family="'Liberation Sans', sans-serif" font-size="18.3" font-weight="400" text-anchor="start" fill="#262626" textLength="36" lengthAdjust="spacingAndGlyphs" >PCM</text>
<rect x="1775.1" y="175.2" width="18.4" height="8.3" fill="#a0a0a0" stroke="#111" stroke-width="3.2"/>
<text x="1808.6" y="185.7" font-family="'Liberation Sans', sans-serif" font-size="18.3" font-weight="400" text-anchor="start" fill="#262626" textLength="31.5" lengthAdjust="spacingAndGlyphs" >STD</text>
<rect x="1775.1" y="205.2" width="18.4" height="8.3" fill="#c4e2e2" stroke="#111" stroke-width="3.2"/>
<text x="1808.6" y="215.7" font-family="'Liberation Sans', sans-serif" font-size="18.3" font-weight="400" text-anchor="start" fill="#262626" textLength="106" lengthAdjust="spacingAndGlyphs" >PHF100mg/kg</text>
<rect x="1775.1" y="234.8" width="18.4" height="8.3" fill="#4a8a4a" stroke="#111" stroke-width="3.2"/>
<text x="1808.6" y="245.3" font-family="'Liberation Sans', sans-serif" font-size="18.3" font-weight="400" text-anchor="start" fill="#262626" textLength="111.6" lengthAdjust="spacingAndGlyphs" >PHF 200mg/kg</text>
<rect x="1775.1" y="264.9" width="18.4" height="8.3" fill="#55c860" stroke="#111" stroke-width="3.2"/>
<text x="1808.6" y="275.3" font-family="'Liberation Sans', sans-serif" font-size="18.3" font-weight="400" text-anchor="start" fill="#262626" textLength="111.6" lengthAdjust="spacingAndGlyphs" >PHF 400mg/kg</text>
<text x="0" y="0" transform="translate(1368.7 232.5) scale(1.0 1) rotate(-90)" font-family="'Liberation Sans', sans-serif" font-size="18" font-weight="700" text-anchor="middle" fill="#111">U/L</text>
<rect x="7.9" y="645.5" width="86.2" height="58.0" fill="#b4c7e7" stroke="#000" stroke-width="3"/>
<g transform="translate(49.5 0) scale(0.94 1)"><text x="0" y="694.5" font-family="'Liberation Serif', serif" font-size="42" font-weight="700" text-anchor="middle" fill="#000">D</text></g>
<text x="212.2" y="685.0" font-family="'Liberation Sans', sans-serif" font-size="23" font-weight="700" text-anchor="start" fill="#111" textLength="172.4" lengthAdjust="spacingAndGlyphs" >TRIGLYCERIDES</text>
<rect x="178.8" y="930.1" width="25.0" height="64.5" fill="#000" stroke="#000" stroke-width="3"/>
<rect x="222.0" y="806.9" width="25.0" height="187.7" fill="url(#hstr)" stroke="#000" stroke-width="3"/>
<rect x="265.1" y="894.5" width="25.0" height="100.1" fill="url(#vstr)" stroke="#000" stroke-width="3"/>
<rect x="308.9" y="869.5" width="25.0" height="125.1" fill="url(#gridWhite)" stroke="#000" stroke-width="3"/>
<rect x="352.1" y="907.5" width="25.0" height="87.1" fill="url(#gridDG)" stroke="#000" stroke-width="3"/>
<rect x="395.5" y="921.5" width="25.0" height="73.1" fill="url(#brickLG)" stroke="#000" stroke-width="3"/>
<line x1="191.3" y1="928.6" x2="191.3" y2="915.0" stroke="#777" stroke-width="1.3"/>
<line x1="184.8" y1="915.0" x2="197.8" y2="915.0" stroke="#555" stroke-width="1.6"/>
<line x1="234.5" y1="805.4" x2="234.5" y2="785.0" stroke="#777" stroke-width="1.3"/>
<line x1="228.0" y1="785.0" x2="241.0" y2="785.0" stroke="#555" stroke-width="1.6"/>
<line x1="277.6" y1="893.0" x2="277.6" y2="877.0" stroke="#777" stroke-width="1.3"/>
<line x1="271.1" y1="877.0" x2="284.1" y2="877.0" stroke="#555" stroke-width="1.6"/>
<line x1="321.4" y1="868.0" x2="321.4" y2="851.4" stroke="#777" stroke-width="1.3"/>
<line x1="314.9" y1="851.4" x2="327.9" y2="851.4" stroke="#555" stroke-width="1.6"/>
<line x1="364.6" y1="906.0" x2="364.6" y2="889.6" stroke="#777" stroke-width="1.3"/>
<line x1="358.1" y1="889.6" x2="371.1" y2="889.6" stroke="#555" stroke-width="1.6"/>
<line x1="408.0" y1="920.0" x2="408.0" y2="902.0" stroke="#777" stroke-width="1.3"/>
<line x1="401.5" y1="902.0" x2="414.5" y2="902.0" stroke="#555" stroke-width="1.6"/>
<line x1="163.0" y1="716.0" x2="163.0" y2="995.6" stroke="#222" stroke-width="2.2"/>
<line x1="153.0" y1="994.6" x2="438.0" y2="994.6" stroke="#222" stroke-width="2.4"/>
<line x1="153.6" y1="994.6" x2="163.0" y2="994.6" stroke="#222" stroke-width="2.2"/>
<text x="129.8" y="1002.0" font-family="'Liberation Sans', sans-serif" font-size="18.3" font-weight="700" text-anchor="end" fill="#1a1a1a" >0</text>
<line x1="153.6" y1="925.2" x2="163.0" y2="925.2" stroke="#222" stroke-width="2.2"/>
<text x="129.8" y="932.6" font-family="'Liberation Sans', sans-serif" font-size="18.3" font-weight="700" text-anchor="end" fill="#1a1a1a" textLength="18.4" lengthAdjust="spacingAndGlyphs" >50</text>
<line x1="153.6" y1="855.8" x2="163.0" y2="855.8" stroke="#222" stroke-width="2.2"/>
<text x="129.8" y="863.2" font-family="'Liberation Sans', sans-serif" font-size="18.3" font-weight="700" text-anchor="end" fill="#1a1a1a" textLength="27.599999999999998" lengthAdjust="spacingAndGlyphs" >100</text>
<line x1="153.6" y1="786.4" x2="163.0" y2="786.4" stroke="#222" stroke-width="2.2"/>
<text x="129.8" y="793.8" font-family="'Liberation Sans', sans-serif" font-size="18.3" font-weight="700" text-anchor="end" fill="#1a1a1a" textLength="27.599999999999998" lengthAdjust="spacingAndGlyphs" >150</text>
<line x1="153.6" y1="717.0" x2="163.0" y2="717.0" stroke="#222" stroke-width="2.2"/>
<text x="129.8" y="724.4" font-family="'Liberation Sans', sans-serif" font-size="18.3" font-weight="700" text-anchor="end" fill="#1a1a1a" textLength="27.599999999999998" lengthAdjust="spacingAndGlyphs" >200</text>
<line x1="191.0" y1="994.6" x2="191.0" y2="1005.0" stroke="#222" stroke-width="2.2"/>
<line x1="234.0" y1="994.6" x2="234.0" y2="1005.0" stroke="#222" stroke-width="2.2"/>
<line x1="277.0" y1="994.6" x2="277.0" y2="1005.0" stroke="#222" stroke-width="2.2"/>
<line x1="321.0" y1="994.6" x2="321.0" y2="1005.0" stroke="#222" stroke-width="2.2"/>
<line x1="364.0" y1="994.6" x2="364.0" y2="1005.0" stroke="#222" stroke-width="2.2"/>
<line x1="407.4" y1="994.6" x2="407.4" y2="1005.0" stroke="#222" stroke-width="2.2"/>
<text x="0" y="0" transform="translate(196.57 1020.80) scale(0.92 1) rotate(-45)" font-family="'Liberation Sans', sans-serif" font-size="18.4" font-weight="700" text-anchor="end" fill="#111">NORMAL</text>
<text x="0" y="0" transform="translate(239.57 1020.80) scale(0.92 1) rotate(-45)" font-family="'Liberation Sans', sans-serif" font-size="18.4" font-weight="700" text-anchor="end" fill="#111">PCM</text>
<text x="0" y="0" transform="translate(282.57 1020.80) scale(0.92 1) rotate(-45)" font-family="'Liberation Sans', sans-serif" font-size="18.4" font-weight="700" text-anchor="end" fill="#111">STD</text>
<text x="0" y="0" transform="translate(326.57 1020.80) scale(0.92 1) rotate(-45)" font-family="'Liberation Sans', sans-serif" font-size="18.4" font-weight="700" text-anchor="end" fill="#111">PHF100mg/kg</text>
<text x="0" y="0" transform="translate(369.57 1020.80) scale(0.92 1) rotate(-45)" font-family="'Liberation Sans', sans-serif" font-size="18.4" font-weight="700" text-anchor="end" fill="#111">PHF200mg/kg</text>
<text x="0" y="0" transform="translate(412.97 1020.80) scale(0.92 1) rotate(-45)" font-family="'Liberation Sans', sans-serif" font-size="18.4" font-weight="700" text-anchor="end" fill="#111">PHF400mg/kg</text>
<polygon points="227.30,774.90 228.15,777.13 230.53,777.25 228.68,778.75 229.30,781.05 227.30,779.75 225.30,781.05 225.92,778.75 224.07,777.25 226.45,777.13" fill="#3a3a3a"/>
<polygon points="234.50,774.90 235.35,777.13 237.73,777.25 235.88,778.75 236.50,781.05 234.50,779.75 232.50,781.05 233.12,778.75 231.27,777.25 233.65,777.13" fill="#3a3a3a"/>
<polygon points="241.70,774.90 242.55,777.13 244.93,777.25 243.08,778.75 243.70,781.05 241.70,779.75 239.70,781.05 240.32,778.75 238.47,777.25 240.85,777.13" fill="#3a3a3a"/>
<text x="280.6" y="860.0" font-family="'Liberation Sans', sans-serif" font-size="17" font-weight="400" text-anchor="middle" fill="#333" textLength="25.650000000000002" lengthAdjust="spacingAndGlyphs" >###</text>
<polygon points="271.40,866.90 272.25,869.13 274.63,869.25 272.78,870.75 273.40,873.05 271.40,871.75 269.40,873.05 270.02,870.75 268.17,869.25 270.55,869.13" fill="#3a3a3a"/>
<polygon points="278.60,866.90 279.45,869.13 281.83,869.25 279.98,870.75 280.60,873.05 278.60,871.75 276.60,873.05 277.22,870.75 275.37,869.25 277.75,869.13" fill="#3a3a3a"/>
<polygon points="285.80,866.90 286.65,869.13 289.03,869.25 287.18,870.75 287.80,873.05 285.80,871.75 283.80,873.05 284.42,870.75 282.57,869.25 284.95,869.13" fill="#3a3a3a"/>
<text x="321.4" y="841.0" font-family="'Liberation Sans', sans-serif" font-size="17" font-weight="400" text-anchor="middle" fill="#333" textLength="25.650000000000002" lengthAdjust="spacingAndGlyphs" >###</text>
<polygon points="314.20,843.90 315.05,846.13 317.43,846.25 315.58,847.75 316.20,850.05 314.20,848.75 312.20,850.05 312.82,847.75 310.97,846.25 313.35,846.13" fill="#3a3a3a"/>
<polygon points="321.40,843.90 322.25,846.13 324.63,846.25 322.78,847.75 323.40,850.05 321.40,848.75 319.40,850.05 320.02,847.75 318.17,846.25 320.55,846.13" fill="#3a3a3a"/>
<polygon points="328.60,843.90 329.45,846.13 331.83,846.25 329.98,847.75 330.60,850.05 328.60,848.75 326.60,850.05 327.22,847.75 325.37,846.25 327.75,846.13" fill="#3a3a3a"/>
<text x="363.6" y="866.9" font-family="'Liberation Sans', sans-serif" font-size="16" font-weight="400" text-anchor="middle" fill="#333" textLength="17.4" lengthAdjust="spacingAndGlyphs" >$$</text>
<text x="364.6" y="886.0" font-family="'Liberation Sans', sans-serif" font-size="17" font-weight="400" text-anchor="middle" fill="#333" textLength="25.650000000000002" lengthAdjust="spacingAndGlyphs" >###</text>
<text x="403.0" y="878.9" font-family="'Liberation Sans', sans-serif" font-size="16" font-weight="400" text-anchor="middle" fill="#333" textLength="17.4" lengthAdjust="spacingAndGlyphs" >$$</text>
<text x="408.0" y="901.0" font-family="'Liberation Sans', sans-serif" font-size="17" font-weight="400" text-anchor="middle" fill="#333" textLength="25.650000000000002" lengthAdjust="spacingAndGlyphs" >###</text>
<rect x="462.6" y="736.1" width="20.4" height="9.8" fill="#000" stroke="#000" stroke-width="3.2"/>
<text x="498.6" y="748.6" font-family="'Liberation Sans', sans-serif" font-size="22" font-weight="400" text-anchor="start" fill="#262626" textLength="73.4" lengthAdjust="spacingAndGlyphs" >NORMAL</text>
<rect x="462.6" y="769.7" width="20.4" height="9.8" fill="#999" stroke="#111" stroke-width="3.2"/>
<text x="498.6" y="782.2" font-family="'Liberation Sans', sans-serif" font-size="22" font-weight="400" text-anchor="start" fill="#262626" textLength="39.4" lengthAdjust="spacingAndGlyphs" >PCM</text>
<rect x="462.6" y="803.7" width="20.4" height="9.8" fill="#a8a8a8" stroke="#111" stroke-width="3.2"/>
<text x="498.6" y="816.2" font-family="'Liberation Sans', sans-serif" font-size="22" font-weight="400" text-anchor="start" fill="#262626" textLength="35" lengthAdjust="spacingAndGlyphs" >STD</text>
<rect x="462.6" y="837.1" width="20.4" height="9.8" fill="#d8d8d8" stroke="#111" stroke-width="3.2"/>
<text x="498.6" y="849.6" font-family="'Liberation Sans', sans-serif" font-size="22" font-weight="400" text-anchor="start" fill="#262626" textLength="115" lengthAdjust="spacingAndGlyphs" >PHF100mg/kg</text>
<rect x="462.6" y="871.1" width="20.4" height="9.8" fill="#4a8a4a" stroke="#222" stroke-width="3.2"/>
<text x="498.6" y="883.6" font-family="'Liberation Sans', sans-serif" font-size="22" font-weight="400" text-anchor="start" fill="#262626" textLength="115" lengthAdjust="spacingAndGlyphs" >PHF200mg/kg</text>
<rect x="462.6" y="905.1" width="20.4" height="9.8" fill="#a0e0a0" stroke="#222" stroke-width="3.2"/>
<text x="498.6" y="917.6" font-family="'Liberation Sans', sans-serif" font-size="22" font-weight="400" text-anchor="start" fill="#262626" textLength="115" lengthAdjust="spacingAndGlyphs" >PHF400mg/kg</text>
<text x="0" y="0" transform="translate(66.4 855.3) scale(1.0 1) rotate(-90)" font-family="'Liberation Sans', sans-serif" font-size="20" font-weight="700" text-anchor="middle" fill="#111">mg/dL</text>
<rect x="709.9" y="645.5" width="86.2" height="58.4" fill="#b4c7e7" stroke="#000" stroke-width="3"/>
<g transform="translate(752.3 0) scale(0.93 1)"><text x="0" y="695.5" font-family="'Liberation Serif', serif" font-size="42" font-weight="700" text-anchor="middle" fill="#000">E</text></g>
<text x="836.0" y="682.4" font-family="'Liberation Sans', sans-serif" font-size="21.5" font-weight="700" text-anchor="start" fill="#111" textLength="181.6" lengthAdjust="spacingAndGlyphs" >TOTAL PROTEIN</text>
<rect x="805.1" y="821.5" width="24.5" height="181.5" fill="url(#chkBW)" stroke="#000" stroke-width="3"/>
<rect x="849.1" y="917.1" width="24.5" height="85.9" fill="url(#hstr)" stroke="#000" stroke-width="3"/>
<rect x="893.5" y="840.9" width="24.5" height="162.1" fill="url(#vstr)" stroke="#000" stroke-width="3"/>
<rect x="937.0" y="874.9" width="24.9" height="128.1" fill="url(#diagLG_E)" stroke="#333" stroke-width="2.6"/>
<rect x="981.2" y="877.3" width="24.9" height="125.7" fill="url(#diagTeal)" stroke="#222" stroke-width="2.6"/>
<rect x="1025.5" y="846.9" width="24.5" height="156.1" fill="url(#dotGreenE)" stroke="#000" stroke-width="3"/>
<line x1="817.4" y1="820.0" x2="817.4" y2="770.0" stroke="#777" stroke-width="1.3"/>
<line x1="810.9" y1="770.0" x2="823.9" y2="770.0" stroke="#555" stroke-width="1.6"/>
<line x1="861.4" y1="915.6" x2="861.4" y2="903.6" stroke="#777" stroke-width="1.3"/>
<line x1="854.9" y1="903.6" x2="867.9" y2="903.6" stroke="#555" stroke-width="1.6"/>
<line x1="905.7" y1="839.4" x2="905.7" y2="823.0" stroke="#777" stroke-width="1.3"/>
<line x1="899.2" y1="823.0" x2="912.2" y2="823.0" stroke="#555" stroke-width="1.6"/>
<line x1="949.5" y1="873.6" x2="949.5" y2="847.0" stroke="#777" stroke-width="1.3"/>
<line x1="943.0" y1="847.0" x2="956.0" y2="847.0" stroke="#555" stroke-width="1.6"/>
<line x1="993.7" y1="876.0" x2="993.7" y2="863.0" stroke="#777" stroke-width="1.3"/>
<line x1="987.2" y1="863.0" x2="1000.2" y2="863.0" stroke="#555" stroke-width="1.6"/>
<line x1="1037.7" y1="845.4" x2="1037.7" y2="821.0" stroke="#777" stroke-width="1.3"/>
<line x1="1031.2" y1="821.0" x2="1044.2" y2="821.0" stroke="#555" stroke-width="1.6"/>
<line x1="788.6" y1="737.6" x2="788.6" y2="1004.0" stroke="#222" stroke-width="2.2"/>
<line x1="779.0" y1="1003.0" x2="1068.0" y2="1003.0" stroke="#222" stroke-width="2.4"/>
<line x1="777.8" y1="1003.0" x2="788.6" y2="1003.0" stroke="#222" stroke-width="2.2"/>
<text x="775.0" y="1009.9" font-family="'Liberation Sans', sans-serif" font-size="17.5" font-weight="700" text-anchor="end" fill="#1a1a1a" >0</text>
<line x1="777.8" y1="950.1" x2="788.6" y2="950.1" stroke="#222" stroke-width="2.2"/>
<text x="775.0" y="957.0" font-family="'Liberation Sans', sans-serif" font-size="17.5" font-weight="700" text-anchor="end" fill="#1a1a1a" >2</text>
<line x1="777.8" y1="897.2" x2="788.6" y2="897.2" stroke="#222" stroke-width="2.2"/>
<text x="775.0" y="904.2" font-family="'Liberation Sans', sans-serif" font-size="17.5" font-weight="700" text-anchor="end" fill="#1a1a1a" >4</text>
<line x1="777.8" y1="844.4" x2="788.6" y2="844.4" stroke="#222" stroke-width="2.2"/>
<text x="775.0" y="851.3" font-family="'Liberation Sans', sans-serif" font-size="17.5" font-weight="700" text-anchor="end" fill="#1a1a1a" >6</text>
<line x1="777.8" y1="791.5" x2="788.6" y2="791.5" stroke="#222" stroke-width="2.2"/>
<text x="775.0" y="798.4" font-family="'Liberation Sans', sans-serif" font-size="17.5" font-weight="700" text-anchor="end" fill="#1a1a1a" >8</text>
<line x1="777.8" y1="738.6" x2="788.6" y2="738.6" stroke="#222" stroke-width="2.2"/>
<text x="775.0" y="745.5" font-family="'Liberation Sans', sans-serif" font-size="17.5" font-weight="700" text-anchor="end" fill="#1a1a1a" textLength="18" lengthAdjust="spacingAndGlyphs" >10</text>
<line x1="817.0" y1="1003.0" x2="817.0" y2="1013.0" stroke="#222" stroke-width="2.2"/>
<line x1="861.0" y1="1003.0" x2="861.0" y2="1013.0" stroke="#222" stroke-width="2.2"/>
<line x1="905.0" y1="1003.0" x2="905.0" y2="1013.0" stroke="#222" stroke-width="2.2"/>
<line x1="949.4" y1="1003.0" x2="949.4" y2="1013.0" stroke="#222" stroke-width="2.2"/>
<line x1="993.6" y1="1003.0" x2="993.6" y2="1013.0" stroke="#222" stroke-width="2.2"/>
<line x1="1038.0" y1="1003.0" x2="1038.0" y2="1013.0" stroke="#222" stroke-width="2.2"/>
<text x="0" y="0" transform="translate(822.29 1027.52) scale(1.02 1) rotate(-45)" font-family="'Liberation Sans', sans-serif" font-size="17.5" font-weight="700" text-anchor="end" fill="#111">NORMAL</text>
<text x="0" y="0" transform="translate(866.29 1027.52) scale(1.02 1) rotate(-45)" font-family="'Liberation Sans', sans-serif" font-size="17.5" font-weight="700" text-anchor="end" fill="#111">PCM</text>
<text x="0" y="0" transform="translate(910.29 1027.52) scale(1.02 1) rotate(-45)" font-family="'Liberation Sans', sans-serif" font-size="17.5" font-weight="700" text-anchor="end" fill="#111">STD</text>
<text x="0" y="0" transform="translate(954.69 1027.52) scale(1.02 1) rotate(-45)" font-family="'Liberation Sans', sans-serif" font-size="17.5" font-weight="700" text-anchor="end" fill="#111">PHF100mg/kg</text>
<text x="0" y="0" transform="translate(998.89 1027.52) scale(1.02 1) rotate(-45)" font-family="'Liberation Sans', sans-serif" font-size="17.5" font-weight="700" text-anchor="end" fill="#111">PHF200mg/kg</text>
<text x="0" y="0" transform="translate(1043.29 1027.52) scale(1.02 1) rotate(-45)" font-family="'Liberation Sans', sans-serif" font-size="17.5" font-weight="700" text-anchor="end" fill="#111">PHF400mg/kg</text>
<polygon points="854.20,895.90 855.05,898.13 857.43,898.25 855.58,899.75 856.20,902.05 854.20,900.75 852.20,902.05 852.82,899.75 850.97,898.25 853.35,898.13" fill="#3a3a3a"/>
<polygon points="861.40,895.90 862.25,898.13 864.63,898.25 862.78,899.75 863.40,902.05 861.40,900.75 859.40,902.05 860.02,899.75 858.17,898.25 860.55,898.13" fill="#3a3a3a"/>
<polygon points="868.60,895.90 869.45,898.13 871.83,898.25 869.98,899.75 870.60,902.05 868.60,900.75 866.60,902.05 867.22,899.75 865.37,898.25 867.75,898.13" fill="#3a3a3a"/>
<text x="905.7" y="820.0" font-family="'Liberation Sans', sans-serif" font-size="17" font-weight="400" text-anchor="middle" fill="#333" textLength="17.1" lengthAdjust="spacingAndGlyphs" >##</text>
<text x="949.5" y="844.0" font-family="'Liberation Sans', sans-serif" font-size="17" font-weight="400" text-anchor="middle" fill="#333" >#</text>
<polygon points="993.70,853.90 994.55,856.13 996.93,856.25 995.08,857.75 995.70,860.05 993.70,858.75 991.70,860.05 992.32,857.75 990.47,856.25 992.85,856.13" fill="#3a3a3a"/>
<text x="1037.7" y="815.0" font-family="'Liberation Sans', sans-serif" font-size="17" font-weight="400" text-anchor="middle" fill="#333" textLength="25.650000000000002" lengthAdjust="spacingAndGlyphs" >###</text>
<rect x="1131.6" y="780.3" width="21.8" height="9.4" fill="url(#legNormA)" stroke="#111" stroke-width="3.2"/>
<text x="1170.0" y="792.2" font-family="'Liberation Sans', sans-serif" font-size="20.8" font-weight="400" text-anchor="start" fill="#262626" textLength="77" lengthAdjust="spacingAndGlyphs" >NORMAL</text>
<rect x="1131.6" y="812.3" width="21.8" height="9.4" fill="#999" stroke="#111" stroke-width="3.2"/>
<text x="1170.0" y="824.2" font-family="'Liberation Sans', sans-serif" font-size="20.8" font-weight="400" text-anchor="start" fill="#262626" textLength="41.6" lengthAdjust="spacingAndGlyphs" >PCM</text>
<rect x="1131.6" y="843.9" width="21.8" height="9.4" fill="#a8a8a8" stroke="#111" stroke-width="3.2"/>
<text x="1170.0" y="855.8" font-family="'Liberation Sans', sans-serif" font-size="20.8" font-weight="400" text-anchor="start" fill="#262626" textLength="36.8" lengthAdjust="spacingAndGlyphs" >STD</text>
<rect x="1131.6" y="875.3" width="21.8" height="9.4" fill="#c0e0c0" stroke="#333" stroke-width="3.2"/>
<text x="1170.0" y="887.2" font-family="'Liberation Sans', sans-serif" font-size="20.8" font-weight="400" text-anchor="start" fill="#262626" textLength="120" lengthAdjust="spacingAndGlyphs" >PHF100mg/kg</text>
<rect x="1131.6" y="906.9" width="21.8" height="9.4" fill="#2a8a6a" stroke="#333" stroke-width="3.2"/>
<text x="1170.0" y="918.8" font-family="'Liberation Sans', sans-serif" font-size="20.8" font-weight="400" text-anchor="start" fill="#262626" textLength="120" lengthAdjust="spacingAndGlyphs" >PHF200mg/kg</text>
<rect x="1131.6" y="938.9" width="21.8" height="9.4" fill="#33aa33" stroke="#111" stroke-width="3.2"/>
<text x="1170.0" y="950.8" font-family="'Liberation Sans', sans-serif" font-size="20.8" font-weight="400" text-anchor="start" fill="#262626" textLength="120" lengthAdjust="spacingAndGlyphs" >PHF400mg/kg</text>
<text x="0" y="0" transform="translate(744.8 860.3) scale(1.0 1) rotate(-90)" font-family="'Liberation Sans', sans-serif" font-size="18.5" font-weight="700" text-anchor="middle" fill="#111">g/dl</text>
<rect x="1423.1" y="644.5" width="86.8" height="57.4" fill="#b4c7e7" stroke="#000" stroke-width="3"/>
<g transform="translate(1466.6 0) scale(0.96 1)"><text x="0" y="694.0" font-family="'Liberation Serif', serif" font-size="42" font-weight="700" text-anchor="middle" fill="#000">F</text></g>
<text x="1569.0" y="683.6" font-family="'Liberation Sans', sans-serif" font-size="22" font-weight="700" text-anchor="start" fill="#111" textLength="216.3" lengthAdjust="spacingAndGlyphs" >TOTAL CHOLESTROL</text>
<rect x="1508.2" y="929.1" width="23.5" height="64.9" fill="url(#chkBW)" stroke="#000" stroke-width="3"/>
<rect x="1550.2" y="804.9" width="23.5" height="189.1" fill="url(#hstr)" stroke="#000" stroke-width="3"/>
<rect x="1592.2" y="893.9" width="23.5" height="100.1" fill="url(#vstr)" stroke="#000" stroke-width="3"/>
<rect x="1634.8" y="868.7" width="23.9" height="125.3" fill="url(#chkBlue)" stroke="#2a2a40" stroke-width="2.6"/>
<rect x="1676.8" y="906.3" width="23.9" height="87.7" fill="url(#diamondF)" stroke="#222" stroke-width="2.6"/>
<rect x="1719.0" y="919.7" width="23.9" height="74.3" fill="url(#brickOlive)" stroke="#222" stroke-width="2.6"/>
<line x1="1520.0" y1="927.6" x2="1520.0" y2="914.0" stroke="#777" stroke-width="1.3"/>
<line x1="1513.5" y1="914.0" x2="1526.5" y2="914.0" stroke="#555" stroke-width="1.6"/>
<line x1="1562.0" y1="803.4" x2="1562.0" y2="782.6" stroke="#777" stroke-width="1.3"/>
<line x1="1555.5" y1="782.6" x2="1568.5" y2="782.6" stroke="#555" stroke-width="1.6"/>
<line x1="1604.0" y1="892.4" x2="1604.0" y2="875.0" stroke="#777" stroke-width="1.3"/>
<line x1="1597.5" y1="875.0" x2="1610.5" y2="875.0" stroke="#555" stroke-width="1.6"/>
<line x1="1646.8" y1="867.4" x2="1646.8" y2="850.0" stroke="#777" stroke-width="1.3"/>
<line x1="1640.3" y1="850.0" x2="1653.3" y2="850.0" stroke="#555" stroke-width="1.6"/>
<line x1="1688.8" y1="905.0" x2="1688.8" y2="888.0" stroke="#777" stroke-width="1.3"/>
<line x1="1682.3" y1="888.0" x2="1695.3" y2="888.0" stroke="#555" stroke-width="1.6"/>
<line x1="1731.0" y1="918.4" x2="1731.0" y2="901.0" stroke="#777" stroke-width="1.3"/>
<line x1="1724.5" y1="901.0" x2="1737.5" y2="901.0" stroke="#555" stroke-width="1.6"/>
<line x1="1492.3" y1="714.0" x2="1492.3" y2="995.0" stroke="#222" stroke-width="2.2"/>
<line x1="1483.0" y1="994.0" x2="1759.6" y2="994.0" stroke="#222" stroke-width="2.4"/>
<line x1="1483.1" y1="994.0" x2="1492.3" y2="994.0" stroke="#222" stroke-width="2.2"/>
<text x="1480.5" y="1001.5" font-family="'Liberation Sans', sans-serif" font-size="18" font-weight="700" text-anchor="end" fill="#1a1a1a" >0</text>
<line x1="1483.1" y1="924.2" x2="1492.3" y2="924.2" stroke="#222" stroke-width="2.2"/>
<text x="1480.5" y="931.8" font-family="'Liberation Sans', sans-serif" font-size="18" font-weight="700" text-anchor="end" fill="#1a1a1a" textLength="18.2" lengthAdjust="spacingAndGlyphs" >50</text>
<line x1="1483.1" y1="854.5" x2="1492.3" y2="854.5" stroke="#222" stroke-width="2.2"/>
<text x="1480.5" y="862.0" font-family="'Liberation Sans', sans-serif" font-size="18" font-weight="700" text-anchor="end" fill="#1a1a1a" textLength="27.299999999999997" lengthAdjust="spacingAndGlyphs" >100</text>
<line x1="1483.1" y1="784.8" x2="1492.3" y2="784.8" stroke="#222" stroke-width="2.2"/>
<text x="1480.5" y="792.2" font-family="'Liberation Sans', sans-serif" font-size="18" font-weight="700" text-anchor="end" fill="#1a1a1a" textLength="27.299999999999997" lengthAdjust="spacingAndGlyphs" >150</text>
<line x1="1483.1" y1="715.0" x2="1492.3" y2="715.0" stroke="#222" stroke-width="2.2"/>
<text x="1480.5" y="722.5" font-family="'Liberation Sans', sans-serif" font-size="18" font-weight="700" text-anchor="end" fill="#1a1a1a" textLength="27.299999999999997" lengthAdjust="spacingAndGlyphs" >200</text>
<line x1="1519.6" y1="994.0" x2="1519.6" y2="1003.0" stroke="#222" stroke-width="2.2"/>
<line x1="1561.4" y1="994.0" x2="1561.4" y2="1003.0" stroke="#222" stroke-width="2.2"/>
<line x1="1604.0" y1="994.0" x2="1604.0" y2="1003.0" stroke="#222" stroke-width="2.2"/>
<line x1="1645.6" y1="994.0" x2="1645.6" y2="1003.0" stroke="#222" stroke-width="2.2"/>
<line x1="1688.0" y1="994.0" x2="1688.0" y2="1003.0" stroke="#222" stroke-width="2.2"/>
<line x1="1730.0" y1="994.0" x2="1730.0" y2="1003.0" stroke="#222" stroke-width="2.2"/>
<text x="0" y="0" transform="translate(1525.16 1019.21) scale(0.92 1) rotate(-45)" font-family="'Liberation Sans', sans-serif" font-size="18.0" font-weight="700" text-anchor="end" fill="#111">NORMAL</text>
<text x="0" y="0" transform="translate(1566.96 1019.21) scale(0.92 1) rotate(-45)" font-family="'Liberation Sans', sans-serif" font-size="18.0" font-weight="700" text-anchor="end" fill="#111">PCM</text>
<text x="0" y="0" transform="translate(1609.56 1019.21) scale(0.92 1) rotate(-45)" font-family="'Liberation Sans', sans-serif" font-size="18.0" font-weight="700" text-anchor="end" fill="#111">STD</text>
<text x="0" y="0" transform="translate(1651.16 1019.21) scale(0.92 1) rotate(-45)" font-family="'Liberation Sans', sans-serif" font-size="18.0" font-weight="700" text-anchor="end" fill="#111">PHF100mg/kg</text>
<text x="0" y="0" transform="translate(1693.56 1019.21) scale(0.92 1) rotate(-45)" font-family="'Liberation Sans', sans-serif" font-size="18.0" font-weight="700" text-anchor="end" fill="#111">PHF200mg/kg</text>
<text x="0" y="0" transform="translate(1735.56 1019.21) scale(0.92 1) rotate(-45)" font-family="'Liberation Sans', sans-serif" font-size="18.0" font-weight="700" text-anchor="end" fill="#111">PHF400mg/kg</text>
<polygon points="1554.80,772.90 1555.65,775.13 1558.03,775.25 1556.18,776.75 1556.80,779.05 1554.80,777.75 1552.80,779.05 1553.42,776.75 1551.57,775.25 1553.95,775.13" fill="#3a3a3a"/>
<polygon points="1562.00,772.90 1562.85,775.13 1565.23,775.25 1563.38,776.75 1564.00,779.05 1562.00,777.75 1560.00,779.05 1560.62,776.75 1558.77,775.25 1561.15,775.13" fill="#3a3a3a"/>
<polygon points="1569.20,772.90 1570.05,775.13 1572.43,775.25 1570.58,776.75 1571.20,779.05 1569.20,777.75 1567.20,779.05 1567.82,776.75 1565.97,775.25 1568.35,775.13" fill="#3a3a3a"/>
<text x="1609.0" y="859.0" font-family="'Liberation Sans', sans-serif" font-size="17" font-weight="400" text-anchor="middle" fill="#333" textLength="25.650000000000002" lengthAdjust="spacingAndGlyphs" >###</text>
<polygon points="1601.40,864.90 1602.25,867.13 1604.63,867.25 1602.78,868.75 1603.40,871.05 1601.40,869.75 1599.40,871.05 1600.02,868.75 1598.17,867.25 1600.55,867.13" fill="#3a3a3a"/>
<polygon points="1608.60,864.90 1609.45,867.13 1611.83,867.25 1609.98,868.75 1610.60,871.05 1608.60,869.75 1606.60,871.05 1607.22,868.75 1605.37,867.25 1607.75,867.13" fill="#3a3a3a"/>
<text x="1648.8" y="834.0" font-family="'Liberation Sans', sans-serif" font-size="17" font-weight="400" text-anchor="middle" fill="#333" textLength="25.650000000000002" lengthAdjust="spacingAndGlyphs" >###</text>
<polygon points="1639.60,838.90 1640.45,841.13 1642.83,841.25 1640.98,842.75 1641.60,845.05 1639.60,843.75 1637.60,845.05 1638.22,842.75 1636.37,841.25 1638.75,841.13" fill="#3a3a3a"/>
<polygon points="1646.80,838.90 1647.65,841.13 1650.03,841.25 1648.18,842.75 1648.80,845.05 1646.80,843.75 1644.80,845.05 1645.42,842.75 1643.57,841.25 1645.95,841.13" fill="#3a3a3a"/>
<polygon points="1654.00,838.90 1654.85,841.13 1657.23,841.25 1655.38,842.75 1656.00,845.05 1654.00,843.75 1652.00,845.05 1652.62,842.75 1650.77,841.25 1653.15,841.13" fill="#3a3a3a"/>
<text x="1687.8" y="864.9" font-family="'Liberation Sans', sans-serif" font-size="16" font-weight="400" text-anchor="middle" fill="#333" textLength="17.4" lengthAdjust="spacingAndGlyphs" >$$</text>
<text x="1689.8" y="883.0" font-family="'Liberation Sans', sans-serif" font-size="17" font-weight="400" text-anchor="middle" fill="#333" textLength="25.650000000000002" lengthAdjust="spacingAndGlyphs" >###</text>
<text x="1731.0" y="875.9" font-family="'Liberation Sans', sans-serif" font-size="16" font-weight="400" text-anchor="middle" fill="#333" textLength="26.099999999999998" lengthAdjust="spacingAndGlyphs" >$$$</text>
<text x="1731.0" y="896.0" font-family="'Liberation Sans', sans-serif" font-size="17" font-weight="400" text-anchor="middle" fill="#333" textLength="25.650000000000002" lengthAdjust="spacingAndGlyphs" >###</text>
<rect x="1823.0" y="750.1" width="20.7" height="8.8" fill="url(#legNormA)" stroke="#111" stroke-width="3.2"/>
<text x="1858.6" y="761.5" font-family="'Liberation Sans', sans-serif" font-size="20.3" font-weight="400" text-anchor="start" fill="#262626" textLength="71.8" lengthAdjust="spacingAndGlyphs" >NORMAL</text>
<rect x="1823.0" y="782.6" width="20.7" height="8.8" fill="#999" stroke="#111" stroke-width="3.2"/>
<text x="1858.6" y="794.0" font-family="'Liberation Sans', sans-serif" font-size="20.3" font-weight="400" text-anchor="start" fill="#262626" textLength="38.6" lengthAdjust="spacingAndGlyphs" >PCM</text>
<rect x="1823.0" y="815.1" width="20.7" height="8.8" fill="#a8a8a8" stroke="#111" stroke-width="3.2"/>
<text x="1858.6" y="826.5" font-family="'Liberation Sans', sans-serif" font-size="20.3" font-weight="400" text-anchor="start" fill="#262626" textLength="34.3" lengthAdjust="spacingAndGlyphs" >STD</text>
<rect x="1823.0" y="848.1" width="20.7" height="8.8" fill="#9090e0" stroke="#333" stroke-width="3.2"/>
<text x="1858.6" y="859.5" font-family="'Liberation Sans', sans-serif" font-size="20.3" font-weight="400" text-anchor="start" fill="#262626" textLength="112.3" lengthAdjust="spacingAndGlyphs" >PHF100mg/kg</text>
<rect x="1823.0" y="880.6" width="20.7" height="8.8" fill="#c0e8c8" stroke="#334" stroke-width="3.2"/>
<text x="1858.6" y="892.0" font-family="'Liberation Sans', sans-serif" font-size="20.3" font-weight="400" text-anchor="start" fill="#262626" textLength="112.3" lengthAdjust="spacingAndGlyphs" >PHF200mg/kg</text>
<rect x="1823.0" y="913.2" width="20.7" height="8.8" fill="#9a9a40" stroke="#333" stroke-width="3.2"/>
<text x="1858.6" y="924.6" font-family="'Liberation Sans', sans-serif" font-size="20.3" font-weight="400" text-anchor="start" fill="#262626" textLength="112.3" lengthAdjust="spacingAndGlyphs" >PHF400mg/kg</text>
<text x="0" y="0" transform="translate(1420.0 854.6) scale(1.0 1) rotate(-90)" font-family="'Liberation Sans', sans-serif" font-size="18.7" font-weight="700" text-anchor="middle" fill="#111">mg/dl</text>
</svg>
<div class="cap j" style="left:62.0px;top:499.8px;width:602.0px;line-height:normal;">“All the values are expressed in Mean ± SEM where, n=6: analyzed by one</div>
<div class="cap j" style="left:62.0px;top:524.7px;width:602.0px;line-height:normal;">way ANOVA followed by Tukey’s multiple comparison tests. Where *p&lt;0.05,</div>
<div class="cap j" style="left:62.0px;top:549.9px;width:602.0px;line-height:normal;">p**&lt;0.01, p***&lt;0.001 compared to normal group. #p&lt;0.05, ##p&lt;0.01,</div>
<div class="cap j" style="left:62.0px;top:575.1px;width:602.0px;line-height:normal;">###p&lt;0.001 compared to disease control group. $p&lt;0.05, $$p&lt;0.01,</div>
<div class="cap" style="left:62.0px;top:600.5px;width:602.0px;">$$$p&lt;0.001 compared to PHF100mg/kg group”</div>
<div class="cap j" style="left:756.0px;top:500.6px;width:584.5px;line-height:normal;">In this investigation, *p&lt;0.05, p**&lt;0.01, p***&lt;0.001 compared to normal</div>
<div class="cap j" style="left:756.0px;top:525.8px;width:584.5px;line-height:normal;">group. #p&lt;0.05, ##p&lt;0.01, ###p&lt;0.001 compared to disease control group.</div>
<div class="cap" style="left:756.0px;top:551.3px;width:584.5px;">$p&lt;0.05,$$p&lt;0.01, $$$p&lt;0.001 compared to PHF400mg/kg group</div>
<div class="cap" style="left:1413.2px;top:496.1px;">In this investigation, *p&lt;0.05, p**&lt;0.01, p***&lt;0.001 compared to normal</div>
<div class="cap" style="left:1413.2px;top:521.4px;">group. #p&lt;0.05, ##p&lt;0.01, ###p&lt;0.001 compared to disease control</div>
<div class="cap" style="left:1413.2px;top:547.1px;">group. $p&lt;0.05, $$p&lt;0.01, $$$p&lt;0.001 compared to PHF400mg/kg group</div>
<div class="cap j" style="left:62.6px;top:1152.1px;width:587.1px;line-height:normal;">In this investigation, *p&lt;0.05, p**&lt;0.01, p***&lt;0.001 compared to normal</div>
<div class="cap j" style="left:62.6px;top:1177.3px;width:587.1px;line-height:normal;">group. #p&lt;0.05, ##p&lt;0.01, ###p&lt;0.001 compared to disease control group.</div>
<div class="cap" style="left:62.6px;top:1202.1px;width:587.1px;">$p&lt;0.05, $$p&lt;0.01, $$$p&lt;0.001 compared to PHF400mg/kg group</div>
<div class="cap j" style="left:767.8px;top:1151.3px;width:525.3px;line-height:normal;">In this investigation, *p&lt;0.05, p**&lt;0.01, p***&lt;0.001 compared to</div>
<div class="cap j" style="left:767.8px;top:1176.7px;width:525.3px;line-height:normal;">normal group. #p&lt;0.05, ##p&lt;0.01, ###p&lt;0.001 compared to disease</div>
<div class="cap" style="left:767.8px;top:1201.6px;width:525.3px;">control group</div>
<div class="cap" style="left:1432.8px;top:1140.7px;">In this investigation, *p&lt;0.05, p**&lt;0.01, p***&lt;0.001 compared to</div>
<div class="cap" style="left:1432.8px;top:1165.7px;">normal group. #p&lt;0.05, ##p&lt;0.01, ###p&lt;0.001 compared to disease</div>
<div class="cap" style="left:1432.8px;top:1190.4px;">control group. $p&lt;0.05, $$p&lt;0.01, $$$p&lt;0.001 compared to</div>
<div class="cap" style="left:1432.8px;top:1216.0px;">PHF400mg/kg group</div>
</div></body></html>
